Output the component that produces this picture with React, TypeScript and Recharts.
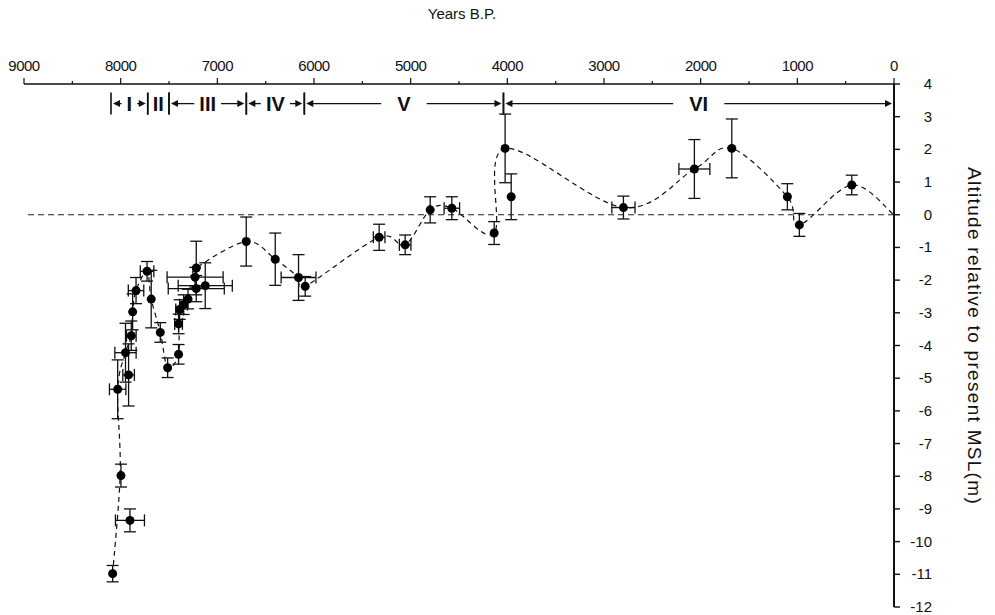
import React from "react";
import {
  ComposedChart,
  XAxis,
  YAxis,
  Line,
  Scatter,
  ErrorBar,
  ReferenceLine,
} from "recharts";

// dated samples (years B.P., altitude m, +/- years, +/- metres)
const sampleYears = [
  8083, 7997, 7904, 8031, 7950, 7918, 7890, 7876, 7841, 7727, 7684, 7590, 7514,
  7401, 7401, 7390, 7349, 7303, 7218, 7230, 7125, 7218, 6701, 6401, 6160, 6091,
  5326, 5057, 4798, 4574, 4136, 4023, 3960, 2799, 2065, 1678, 1103, 979, 437,
];
const sampleLevels = [
  -10.98, -7.98, -9.35, -5.34, -4.22, -4.9, -3.7, -2.97, -2.32, -1.73, -2.58,
  -3.6, -4.68, -4.27, -3.34, -2.9, -2.75, -2.58, -1.63, -1.91, -2.17, -2.26,
  -0.82, -1.36, -1.92, -2.19, -0.69, -0.92, 0.15, 0.2, -0.56, 2.03, 0.55, 0.22,
  1.4, 2.03, 0.55, -0.31, 0.91,
];
const yearErr = [
  0, 0, 150, 85, 110, 60, 50, 0, 80, 70, 0, 0, 0, 0, 40, 40, 40, 0, 0, 290, 280,
  290, 0, 0, 180, 0, 60, 60, 0, 80, 0, 0, 0, 120, 160, 0, 0, 0, 0,
];
const levelErr = [
  0.25, 0.35, 0.35, 0.9, 0.9, 0.95, 0.45, 0.55, 0.4, 0.3, 0.88, 0.3, 0.3, 0.3,
  0.3, 0.3, 0.3, 0.3, 0.82, 0.3, 0.7, 0.4, 0.75, 0.8, 0.7, 0.3, 0.4, 0.3, 0.4,
  0.35, 0.35, 1.05, 0.7, 0.35, 0.9, 0.9, 0.4, 0.35, 0.3,
];

// dashed sea-level curve through the samples
const curveYears = [
  8083, 8005, 8031, 7950, 7890, 7876, 7841, 7727, 7684, 7590, 7514, 7401, 7401,
  7390, 7303, 7230, 7218, 6701, 6401, 6160, 6091, 5326, 5057, 4798, 4574, 4136,
  4023, 2799, 2065, 1678, 1103, 979, 437, 0,
];
const curveLevels = [
  -10.98, -7.9, -5.34, -4.22, -3.7, -2.97, -2.32, -1.73, -2.58, -3.6, -4.68,
  -4.27, -3.34, -2.9, -2.58, -1.91, -1.63, -0.82, -1.36, -1.92, -2.19, -0.69,
  -0.92, 0.15, 0.2, -0.56, 2.03, 0.22, 1.4, 2.03, 0.55, -0.31, 0.91, 0,
];

// periods I..VI
const periodNames = ["I", "II", "III", "IV", "V", "VI"];
const periodStart = [8100, 7720, 7500, 6700, 6100, 4040];
const periodEnd = [7720, 7500, 6700, 6100, 4040, 0];
const PERIOD_LEVEL = 3.4;

const yearTicks = [
  9000, 8500, 8000, 7500, 7000, 6500, 6000, 5500, 5000, 4500, 4000, 3500, 3000,
  2500, 2000, 1500, 1000, 500, 0,
];
const levelTicks = [4, 3, 2, 1, 0, -1, -2, -3, -4, -5, -6, -7, -8, -9, -10, -11, -12];

const samples = sampleYears.map((t, i) => ({
  t,
  v: sampleLevels[i],
  ex: yearErr[i],
  ey: levelErr[i],
}));
const curve = curveYears.map((t, i) => ({ t, v: curveLevels[i] }));

const FONT = "'Liberation Sans', Arial, sans-serif";

// catmull-rom style smoothing, works with x going back and forth
const smoothCurve = (context: any) => {
  let pts: number[][] = [];
  return {
    areaStart() {},
    areaEnd() {},
    lineStart() {
      pts = [];
    },
    point(x: number, y: number) {
      pts.push([+x, +y]);
    },
    lineEnd() {
      if (!pts.length) return;
      context.moveTo(pts[0][0], pts[0][1]);
      for (let i = 0; i < pts.length - 1; i++) {
        const p0 = pts[Math.max(0, i - 1)];
        const p1 = pts[i];
        const p2 = pts[i + 1];
        const p3 = pts[Math.min(pts.length - 1, i + 2)];
        context.bezierCurveTo(
          p1[0] + (p2[0] - p0[0]) / 6,
          p1[1] + (p2[1] - p0[1]) / 6,
          p2[0] - (p3[0] - p1[0]) / 6,
          p2[1] - (p3[1] - p1[1]) / 6,
          p2[0],
          p2[1]
        );
      }
    },
  };
};

const charW: Record<string, number> = { I: 5.6, V: 13.5 };

function PeriodMark(props: any) {
  const { x1, x2, y1, name } = props;
  if (x1 == null || x2 == null) return null;
  const left = Math.min(x1, x2);
  const right = Math.max(x1, x2);
  const y = y1;
  const mid = (left + right) / 2;
  const tw = name.split("").reduce((s: number, c: string) => s + (charW[c] || 8), 0);
  const pad = right - left > 150 ? 16 : 5;
  const gapL = mid - tw / 2 - pad;
  const gapR = mid + tw / 2 + pad;
  const withArrows = gapL - left > 7;

  const arrow = (from: number, to: number, key: string) => {
    const dir = to > from ? 1 : -1;
    return (
      <g key={key}>
        <line x1={from} y1={y} x2={to - dir * 5} y2={y} stroke="#111" strokeWidth={1.3} />
        <polygon
          points={`${to},${y} ${to - dir * 7},${y - 3.5} ${to - dir * 7},${y + 3.5}`}
          fill="#111"
        />
      </g>
    );
  };

  return (
    <g>
      <line x1={left} y1={y - 11} x2={left} y2={y + 11} stroke="#111" strokeWidth={1.6} />
      <line x1={right} y1={y - 11} x2={right} y2={y + 11} stroke="#111" strokeWidth={1.6} />
      {withArrows && arrow(gapL, left + 2, "l")}
      {withArrows && arrow(gapR, right - 2, "r")}
      <text
        x={mid}
        y={y + 7.5}
        textAnchor="middle"
        fontFamily={FONT}
        fontWeight={700}
        fontSize={20}
        fill="#111"
      >
        {name}
      </text>
    </g>
  );
}

function YearTick(props: any) {
  const { x, y, payload } = props;
  const major = payload.value % 1000 === 0;
  return (
    <g>
      <line x1={x} y1={y} x2={x} y2={y - (major ? 6 : 3)} stroke="#111" strokeWidth={1.2} />
      {major && (
        <text
          x={x}
          y={y - 13}
          textAnchor="middle"
          fontFamily={FONT}
          fontSize={15}
          letterSpacing={-0.5}
          fill="#111"
        >
          {payload.value}
        </text>
      )}
    </g>
  );
}

function LevelTick(props: any) {
  const { x, y, payload } = props;
  return (
    <g>
      <line x1={x} y1={y} x2={x + 6} y2={y} stroke="#111" strokeWidth={1.4} />
      <text
        x={x + 38}
        y={y + 5}
        textAnchor="end"
        fontFamily={FONT}
        fontSize={15}
        fill="#111"
      >
        {payload.value}
      </text>
    </g>
  );
}

const Dot = (props: any) => <circle cx={props.cx} cy={props.cy} r={4.5} fill="#000" />;

export default function App() {
  return (
    <div style={{ position: "absolute", left: 0, top: 0, width: 995, height: 615, background: "#fff" }}>
      <ComposedChart
        width={995}
        height={615}
        margin={{ top: 44, right: 41, bottom: 8, left: 24 }}
      >
        <XAxis
          dataKey="t"
          type="number"
          orientation="top"
          reversed
          domain={[0, 9000]}
          ticks={yearTicks}
          interval={0}
          height={40}
          tickSize={0}
          tickMargin={0}
          tickLine={false}
          tick={<YearTick />}
          axisLine={{ stroke: "#111", strokeWidth: 1.3 }}
        />
        <YAxis
          type="number"
          orientation="right"
          domain={[-12, 4]}
          ticks={levelTicks}
          interval={0}
          width={60}
          tickSize={0}
          tickMargin={0}
          tickLine={false}
          tick={<LevelTick />}
          axisLine={{ stroke: "#111", strokeWidth: 2 }}
        />
        <ReferenceLine y={0} stroke="#222" strokeWidth={1.2} strokeDasharray="6 4" />
        {periodNames.map((name, i) => (
          <ReferenceLine
            key={name}
            segment={[
              { x: periodStart[i], y: PERIOD_LEVEL },
              { x: periodEnd[i], y: PERIOD_LEVEL },
            ]}
            shape={(p: any) => <PeriodMark {...p} name={name} />}
          />
        ))}
        <Line
          data={curve}
          dataKey="v"
          type={smoothCurve as any}
          stroke="#111"
          strokeWidth={1.2}
          strokeDasharray="5 4"
          dot={false}
          activeDot={false}
          isAnimationActive={false}
        />
        <Scatter data={samples} dataKey="v" shape={<Dot />} isAnimationActive={false}>
          <ErrorBar dataKey="ey" direction="y" width={6} stroke="#111" strokeWidth={1.3} isAnimationActive={false} />
          <ErrorBar dataKey="ex" direction="x" width={6} stroke="#111" strokeWidth={1.3} isAnimationActive={false} />
        </Scatter>
      </ComposedChart>
      <svg
        width={995}
        height={615}
        style={{ position: "absolute", left: 0, top: 0, pointerEvents: "none" }}
      >
        <text x={462} y={19} textAnchor="middle" fontFamily={FONT} fontSize={15} fill="#111">
          Years B.P.
        </text>
        <text
          transform="translate(968, 336) rotate(90)"
          textAnchor="middle"
          fontFamily={FONT}
          fontSize={19}
          letterSpacing={1.3}
          fill="#111"
        >
          Altitude relative to present MSL(m)
        </text>
      </svg>
    </div>
  );
}
